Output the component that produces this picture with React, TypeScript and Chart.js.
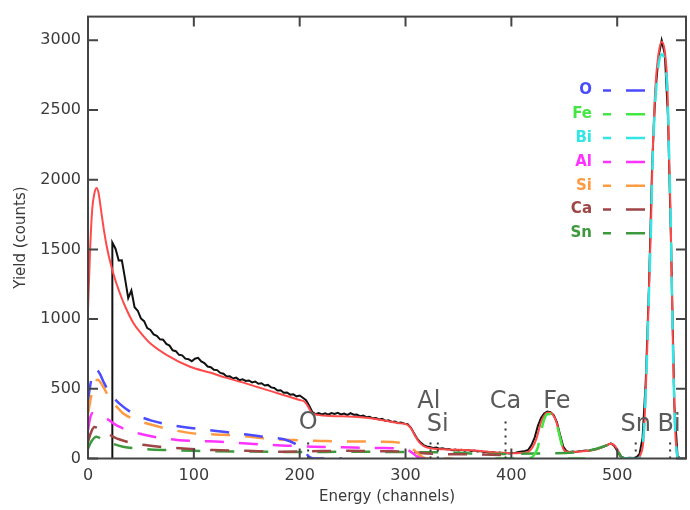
import React, { useEffect, useRef } from "react";
import { Chart, registerables } from "chart.js";

Chart.register(...registerables);

const FONT = '"DejaVu Sans", "Liberation Sans", sans-serif';

// ---- measured spectrum (channels start at 23, every 3 channels) ----
const spectrumStart = 23;
const spectrumStep = 3;
const spectrumCounts = [
  1549, 1505, 1420, 1422, 1290, 1150, 1205, 1085, 1060, 1005,
  985, 935, 922, 890, 880, 855, 852, 822, 810, 776,
  770, 744, 740, 716, 712, 698, 716, 722, 696, 684,
  660, 655, 636, 634, 614, 608, 588, 590, 574, 580,
  562, 568, 556, 560, 546, 552, 536, 540, 524, 528,
  510, 506, 488, 490, 472, 474, 458, 460, 446, 452,
  436, 418, 378, 332, 318, 326, 316, 324, 314, 326,
  320, 328, 316, 322, 312, 326, 314, 316, 304, 308,
  296, 300, 288, 290, 280, 284, 270, 274, 262, 266,
  254, 258, 250, 246, 222, 182, 142, 116, 96, 86,
  82, 76, 78, 70, 74, 66, 68, 60, 64, 58,
  62, 56, 60, 54, 58, 50, 54, 46, 48, 42,
  46, 38, 42, 36, 40, 36, 40, 42, 46, 50,
  54, 62, 96, 150, 232, 290, 322, 336, 332, 312,
  262, 170, 86, 54, 46, 50, 46, 52, 54, 58,
  56, 62, 66, 72, 78, 88, 98, 108, 92, 56,
  16, 6, 4, 6, 4, 8, 30, 150, 560, 1227,
  2100, 2620, 2880, 3000, 2900, 2450, 1500, 380, 15, 0,
];

// ---- total simulated fit ----
const fitChannels = [
  0, 2, 4, 6, 8, 10, 12, 15, 18, 21, 25, 28, 34, 43, 50, 59, 75, 97, 116, 130,
  145, 160, 175, 191, 200, 205, 208, 211, 214, 229, 250, 265, 280, 295, 301, 305, 309, 313, 318, 325,
  340, 365, 380, 400, 415, 420, 424, 428, 432, 435, 439, 443, 446, 449, 453, 465, 480, 490, 494, 498,
  501, 504, 508, 519, 522, 525, 528, 530, 532, 533.5, 536, 539, 542, 545, 547.5, 549, 550.6, 551.6, 552.8, 554.4,
  556, 557.5, 565,
];
const fitCounts = [
  1060, 1500, 1790, 1900, 1941, 1905, 1800, 1640, 1510, 1410, 1300, 1230, 1110, 970, 900, 825, 740, 656, 615, 580,
  548, 513, 478, 441, 420, 405, 372, 332, 318, 305, 300, 290, 272, 252, 245, 218, 162, 116, 86, 72,
  65, 58, 46, 38, 45, 80, 150, 260, 318, 330, 316, 250, 150, 70, 46, 50, 65, 95, 105, 90,
  52, 12, 0, 0, 28, 150, 700, 1200, 1700, 2180, 2650, 2900, 2990, 2920, 2656, 2180, 1704, 1227, 751, 275,
  60, 0, 0,
];

// ---- partial spectra per element ----
const oChannels = [0, 3, 6, 8, 11, 15, 20, 25, 30, 40, 50, 60, 75, 90, 110, 130, 150, 170, 185, 195, 200, 205, 209, 213, 240];
const oCounts = [420, 560, 628, 637, 610, 545, 475, 430, 392, 335, 298, 272, 245, 226, 207, 190, 172, 152, 138, 108, 80, 45, 12, 0, 0];

const feChannels = [385, 415, 421, 425, 428, 431, 434, 437, 440, 443, 446, 449, 452, 470];
const feCounts = [0, 0, 20, 80, 190, 280, 318, 320, 300, 240, 150, 60, 0, 0];

const biChannels = [505, 520, 523, 526, 528, 530, 532, 533.5, 536, 539, 542, 545, 547.5, 549, 550.6, 551.6, 552.8, 554.4, 556, 557.5, 562];
const biCounts = [0, 0, 40, 300, 700, 1180, 1680, 2150, 2560, 2820, 2900, 2840, 2620, 2180, 1704, 1227, 751, 275, 60, 0, 0];

const alChannels = [0, 2, 4, 8, 13, 18, 24, 30, 37, 50, 65, 84, 105, 125, 150, 175, 195, 213, 240, 276, 298, 305, 311, 316, 330];
const alCounts = [200, 290, 325, 315, 300, 285, 252, 226, 204, 176, 152, 133, 125, 120, 107, 96, 90, 84, 80, 75, 70, 48, 14, 0, 0];

const siChannels = [0, 4, 9, 14, 20, 25, 33, 45, 62, 80, 97, 120, 141, 169, 194, 220, 241, 276, 295, 303, 309, 315, 320, 345];
const siCounts = [320, 480, 565, 520, 435, 390, 325, 278, 238, 205, 182, 172, 165, 142, 132, 126, 122, 120, 112, 92, 55, 15, 0, 0];

const caChannels = [0, 3, 6, 10, 15, 20, 24, 30, 45, 68, 90, 118, 150, 182, 210, 245, 280, 305, 320, 360, 390, 396, 400];
const caCounts = [120, 190, 226, 215, 196, 172, 156, 136, 106, 84, 72, 61, 55, 49, 52, 55, 52, 48, 36, 30, 25, 0, 0];

const snChannels = [0, 3, 8, 13, 20, 33, 50, 71, 100, 150, 200, 250, 300, 340, 380, 420, 460, 480, 490, 495, 500, 505, 512];
const snCounts = [70, 120, 156, 140, 116, 84, 70, 61, 55, 50, 47, 48, 46, 44, 32, 35, 44, 68, 94, 100, 62, 5, 0];

const elementNames = ["O", "Fe", "Bi", "Al", "Si", "Ca", "Sn"];
const elementChannels = [oChannels, feChannels, biChannels, alChannels, siChannels, caChannels, snChannels];
const elementCounts = [oCounts, feCounts, biCounts, alCounts, siCounts, caCounts, snCounts];
const elementColors = ["#4b4bff", "#44e644", "#33e6e6", "#ff33ff", "#ff9a40", "#a04545", "#3c9a3c"];

// ---- surface-edge annotations ----
const edgeLabels = ["O", "Al", "Si", "Ca", "Fe", "Sn", "Bi"];
const edgeLabelChannels = [208, 322, 330.5, 394.5, 443, 517.5, 549];
const edgeLabelCounts = [253, 405, 240, 405, 405, 240, 240];
const markerChannels = [208, 323.6, 330.5, 394.5, 517.5, 550];
const markerTops = [120, 120, 120, 300, 120, 120];

// ---- axes ----
const xTickValues = [0, 100, 200, 300, 400, 500];
const yTickValues = [0, 500, 1000, 1500, 2000, 2500, 3000];
const xTitle = "Energy (channels)";
const yTitle = "Yield (counts)";
const xMax = 565;
const yMax = 3170;

const pts = (xs: number[], ys: number[]) => xs.map((x, i) => ({ x, y: ys[i] }));

const overlay = {
  id: "overlay",
  afterDatasetsDraw(chart: any) {
    const { ctx, chartArea: a, scales } = chart;
    const x = scales.x;
    const y = scales.y;
    ctx.save();

    // dotted edge markers
    ctx.strokeStyle = "#333";
    ctx.lineWidth = 2;
    ctx.setLineDash([2, 5]);
    markerChannels.forEach((c, i) => {
      const px = x.getPixelForValue(c);
      ctx.beginPath();
      ctx.moveTo(px, y.getPixelForValue(0));
      ctx.lineTo(px, y.getPixelForValue(markerTops[i]));
      ctx.stroke();
    });
    ctx.setLineDash([]);

    // edge labels
    ctx.font = `24px ${FONT}`;
    ctx.fillStyle = "#5a5a5a";
    ctx.textAlign = "center";
    ctx.textBaseline = "middle";
    edgeLabels.forEach((t, i) => {
      ctx.fillText(t, x.getPixelForValue(edgeLabelChannels[i]), y.getPixelForValue(edgeLabelCounts[i]));
    });

    // frame with inward ticks on all four sides
    ctx.strokeStyle = "#444";
    ctx.lineWidth = 2;
    ctx.strokeRect(a.left, a.top, a.right - a.left, a.bottom - a.top);
    const tick = 10;
    ctx.beginPath();
    x.ticks.forEach((t: any) => {
      const px = x.getPixelForValue(t.value);
      ctx.moveTo(px, a.bottom);
      ctx.lineTo(px, a.bottom - tick);
      ctx.moveTo(px, a.top);
      ctx.lineTo(px, a.top + tick);
    });
    y.ticks.forEach((t: any) => {
      const py = y.getPixelForValue(t.value);
      ctx.moveTo(a.left, py);
      ctx.lineTo(a.left + tick, py);
      ctx.moveTo(a.right, py);
      ctx.lineTo(a.right - tick, py);
    });
    ctx.stroke();

    // legend
    ctx.font = `bold 15px ${FONT}`;
    ctx.textAlign = "right";
    ctx.textBaseline = "middle";
    elementNames.forEach((n, i) => {
      const ry = 90.5 + i * 23.8;
      ctx.fillStyle = elementColors[i];
      ctx.fillText(n, 592, ry);
      ctx.strokeStyle = elementColors[i];
      ctx.lineWidth = 2.5;
      ctx.setLineDash([19, 15]);
      ctx.lineDashOffset = 11;
      ctx.beginPath();
      ctx.moveTo(603, ry);
      ctx.lineTo(647, ry);
      ctx.stroke();
    });
    ctx.restore();
  },
};

export default function App() {
  const ref = useRef<HTMLCanvasElement>(null);

  useEffect(() => {
    if (!ref.current) return;
    const spectrumPoints = [
      { x: spectrumStart, y: 0 },
      ...spectrumCounts.map((c, i) => ({ x: spectrumStart + i * spectrumStep, y: c })),
    ];
    const elementSets = elementNames.map((n, i) => ({
      label: n,
      data: pts(elementChannels[i], elementCounts[i]),
      borderColor: elementColors[i],
      borderWidth: 2.5,
      borderDash: [19, 15],
      pointRadius: 0,
      fill: false,
      cubicInterpolationMode: "monotone" as const,
      order: 1,
    }));

    const chart = new Chart(ref.current, {
      type: "line",
      data: {
        datasets: [
          ...elementSets,
          {
            label: "fit",
            data: pts(fitChannels, fitCounts),
            borderColor: "#ff4a4a",
            borderWidth: 2,
            pointRadius: 0,
            fill: false,
            cubicInterpolationMode: "monotone",
            order: 2,
          },
          {
            label: "data",
            data: spectrumPoints,
            borderColor: "#111",
            borderWidth: 2,
            pointRadius: 0,
            fill: false,
            tension: 0,
            order: 3,
          },
        ],
      },
      options: {
        responsive: false,
        animation: false,
        events: [],
        layout: { padding: { top: 15, right: 4, left: 0, bottom: 0 } },
        plugins: { legend: { display: false }, tooltip: { enabled: false }, title: { display: false } },
        scales: {
          x: {
            type: "linear",
            min: 0,
            max: xMax,
            afterFit: (s: any) => {
              s.height = 51.5;
            },
            afterBuildTicks: (s: any) => {
              s.ticks = xTickValues.map((v) => ({ value: v }));
            },
            grid: { display: false, drawTicks: false, tickLength: 0 },
            border: { display: false },
            ticks: {
              autoSkip: false,
              maxRotation: 0,
              padding: 8,
              color: "#3a3a3a",
              font: { family: FONT, size: 16 },
              callback: (v: any) => String(v),
            },
            title: {
              display: true,
              text: xTitle,
              color: "#3a3a3a",
              font: { family: FONT, size: 15 },
              padding: { top: 0, bottom: 4 },
            },
          },
          y: {
            type: "linear",
            min: 0,
            max: yMax,
            afterFit: (s: any) => {
              s.width = 88;
            },
            afterBuildTicks: (s: any) => {
              s.ticks = yTickValues.map((v) => ({ value: v }));
            },
            grid: { display: false, drawTicks: false, tickLength: 0 },
            border: { display: false },
            ticks: {
              autoSkip: false,
              padding: 7,
              color: "#3a3a3a",
              font: { family: FONT, size: 16 },
              callback: (v: any) => String(v),
            },
            title: {
              display: true,
              text: yTitle,
              color: "#3a3a3a",
              font: { family: FONT, size: 15 },
              padding: { top: 12, bottom: 0 },
            },
          },
        },
      },
      plugins: [overlay],
    });
    return () => chart.destroy();
  }, []);

  return (
    <div style={{ position: "fixed", left: 0, top: 0, width: 690, height: 510, background: "#fff" }}>
      <canvas ref={ref} width={690} height={510} style={{ display: "block", width: 690, height: 510 }} />
    </div>
  );
}
